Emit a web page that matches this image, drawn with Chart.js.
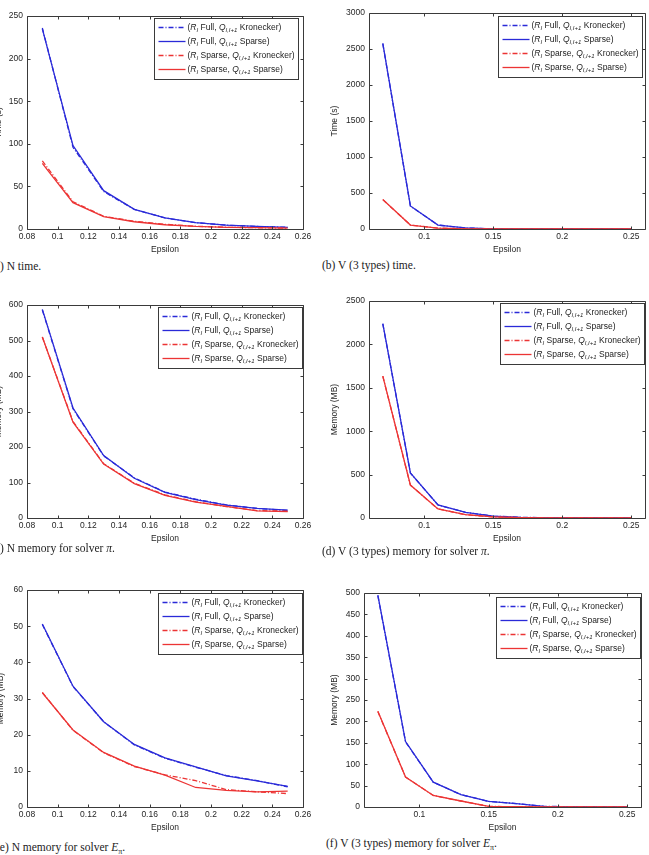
<!DOCTYPE html>
<html>
<head>
<meta charset="utf-8">
<script src="https://cdn.jsdelivr.net/npm/chart.js@4.4.0/dist/chart.umd.min.js"></script>
<style>
  html, body { margin: 0; padding: 0; background: #fff; }
  body { width: 649px; height: 855px; position: relative; overflow: hidden; }
  canvas { position: absolute; }
  .cap { position: absolute; font-family: "Liberation Serif", "DejaVu Serif", serif; font-size: 11.5px; color: #222; white-space: nowrap; line-height: 12px; }
</style>
</head>
<body>
<canvas id="pa"></canvas>
<canvas id="pb"></canvas>
<canvas id="pc"></canvas>
<canvas id="pd"></canvas>
<canvas id="pe"></canvas>
<canvas id="pf"></canvas>
<div class="cap" style="left:-9px;top:260px">(a) N time.</div>
<div class="cap" style="left:322px;top:259px">(b) V (3 types) time.</div>
<div class="cap" style="left:-9px;top:542px">(c) N memory for solver <i>π</i>.</div>
<div class="cap" style="left:322px;top:545px">(d) V (3 types) memory for solver <i>π</i>.</div>
<div class="cap" style="left:-4px;top:841px">(e) N memory for solver <i>E</i><sub style="font-size:8px">π</sub>.</div>
<div class="cap" style="left:326px;top:837px">(f) V (3 types) memory for solver <i>E</i><sub style="font-size:8px">π</sub>.</div>
<script>
// epsilon values where the runs were made
const epsN = [0.09, 0.11, 0.13, 0.15, 0.17, 0.19, 0.21, 0.23, 0.25];
const epsV = [0.07, 0.09, 0.11, 0.13, 0.15, 0.17, 0.19, 0.21, 0.23, 0.25];

// (a) N time
const nTimeFullKron     = [236, 96, 44, 23, 13, 7.5, 4.5, 3, 2];
const nTimeFullSparse   = [235, 98, 45, 23, 13, 7.5, 4.5, 3, 2];
const nTimeSparseKron   = [80, 32, 15, 9, 5.5, 3.2, 2, 1.5, 1];
const nTimeSparseSparse = [77, 31, 14.5, 8.5, 5, 3, 2, 1.5, 1];

// (b) V time
const vTimeFullKron     = [2575, 318, 55, 14, 3, 1, 0.5, 0.3, 0.2, 0.1];
const vTimeFullSparse   = [2580, 320, 55, 15, 3, 1, 0.5, 0.3, 0.2, 0.1];
const vTimeSparseKron   = [408, 55, 12, 3, 1, 0.5, 0.3, 0.2, 0.1, 0.1];
const vTimeSparseSparse = [410, 55, 12, 3, 1, 0.5, 0.3, 0.2, 0.1, 0.1];

// (c) N memory, solver pi
const nMemPiFullKron     = [586, 308, 175, 113, 73, 53, 37, 27, 21];
const nMemPiFullSparse   = [588, 310, 176, 112, 72, 52, 36, 27, 22];
const nMemPiSparseKron   = [510, 272, 153, 98, 65, 46, 32, 21, 19];
const nMemPiSparseSparse = [510, 270, 152, 97, 64, 45, 33, 20, 18];

// (d) V memory, solver pi
const vMemPiFullKron     = [2238, 518, 150, 65, 22, 8, 3, 1, 0.5, 0.3];
const vMemPiFullSparse   = [2240, 520, 150, 65, 22, 8, 3, 1, 0.5, 0.3];
const vMemPiSparseKron   = [1635, 378, 104, 38, 12, 4, 1.5, 0.5, 0.3, 0.2];
const vMemPiSparseSparse = [1635, 380, 105, 38, 12, 4, 1.5, 0.5, 0.3, 0.2];

// (e) N memory, solver E_pi
const nMemEFullKron     = [50.5, 33.3, 23.6, 17.2, 13.5, 11.0, 8.7, 7.3, 5.6];
const nMemEFullSparse   = [50.6, 33.4, 23.6, 17.3, 13.6, 11.1, 8.6, 7.2, 5.7];
const nMemESparseKron   = [31.7, 21.2, 15.0, 11.2, 8.9, 7.3, 4.8, 4.2, 3.7];
const nMemESparseSparse = [31.6, 21.3, 15.1, 11.3, 8.8, 5.4, 4.6, 4.2, 4.4];

// (f) V memory, solver E_pi
const vMemEFullKron     = [494, 152, 58, 29, 13, 8, 1.5, 0.8, 0.5, 0.3];
const vMemEFullSparse   = [495, 153, 58, 29, 13, 8, 1.5, 0.8, 0.5, 0.3];
const vMemESparseKron   = [223, 70, 27, 14, 1.5, 0.6, 0.4, 0.3, 0.2, 0.2];
const vMemESparseSparse = [224, 70, 27, 14, 1.5, 0.6, 0.4, 0.3, 0.2, 0.2];

// tick labels
const xTicksN = [0.08, 0.1, 0.12, 0.14, 0.16, 0.18, 0.2, 0.22, 0.24, 0.26];
const xTicksV = [0.1, 0.15, 0.2, 0.25];
const yTicksA = [0, 50, 100, 150, 200, 250];
const yTicksB = [0, 500, 1000, 1500, 2000, 2500, 3000];
const yTicksC = [0, 100, 200, 300, 400, 500, 600];
const yTicksD = [0, 500, 1000, 1500, 2000, 2500];
const yTicksE = [0, 10, 20, 30, 40, 50, 60];
const yTicksF = [0, 50, 100, 150, 200, 250, 300, 350, 400, 450, 500];

// legend: (R_I <rMode>, Q_{I,I+1} <qMode>)
const rModes = ['Full', 'Full', 'Sparse', 'Sparse'];
const qModes = ['Kronecker', 'Sparse', 'Kronecker', 'Sparse'];

const BLUE = '#2a2ad8';
const RED = '#ec3434';
const seriesColors = [BLUE, BLUE, RED, RED];
const DASHDOT = [5, 2, 1, 2];
const seriesDash = [DASHDOT, [], DASHDOT, []];
const SANS = '"Liberation Sans", Arial, sans-serif';

// MATLAB-ish box with inward ticks on all four sides
const matlabBox = {
  id: 'matlabBox',
  afterDatasetsDraw(chart) {
    const {ctx, chartArea: a, scales: {x, y}} = chart;
    const l = Math.round(a.left) + 0.5, r = Math.round(a.right) + 0.5;
    const t = Math.round(a.top) + 0.5, b = Math.round(a.bottom) + 0.5;
    ctx.save();
    ctx.strokeStyle = '#3a3a3a';
    ctx.lineWidth = 1;
    ctx.beginPath();
    ctx.rect(l, t, r - l, b - t);
    x.ticks.forEach(tk => {
      const px = Math.round(x.getPixelForValue(tk.value)) + 0.5;
      ctx.moveTo(px, b); ctx.lineTo(px, b - 3);
      ctx.moveTo(px, t); ctx.lineTo(px, t + 3);
    });
    y.ticks.forEach(tk => {
      const py = Math.round(y.getPixelForValue(tk.value)) + 0.5;
      ctx.moveTo(l, py); ctx.lineTo(l + 3, py);
      ctx.moveTo(r, py); ctx.lineTo(r - 3, py);
    });
    ctx.stroke();
    ctx.restore();
  }
};

function drawRich(ctx, parts, x, y) {
  parts.forEach(([txt, st]) => {
    let dy = 0;
    if (st === 'i') ctx.font = 'italic 8.5px ' + SANS;
    else if (st === 'sub') { ctx.font = 'italic 6px ' + SANS; dy = 2.5; }
    else ctx.font = '8.5px ' + SANS;
    ctx.fillText(txt, x, y + dy);
    x += ctx.measureText(txt).width;
  });
  return x;
}

function legendParts(i) {
  return [['('], ['R', 'i'], ['I', 'sub'], [' ' + rModes[i] + ', '], ['Q', 'i'], ['I,I+1', 'sub'], [' ' + qModes[i] + ')']];
}

const matlabLegend = {
  id: 'matlabLegend',
  afterDraw(chart, args, opts) {
    const {ctx, chartArea: a} = chart;
    ctx.save();
    ctx.textBaseline = 'middle';
    let tw = 0;
    for (let i = 0; i < 4; i++) {
      const w = drawRich({fillText() {}, measureText: t => ctx.measureText(t), set font(f) { ctx.font = f; }}, legendParts(i), 0, 0);
      tw = Math.max(tw, w);
    }
    const w = Math.round(33 + tw + 4), h = 61;
    const bx = Math.round(a.right - opts.insetR - w) + 0.5, by = Math.round(a.top + opts.insetT) + 0.5;
    ctx.fillStyle = '#fff';
    ctx.fillRect(bx, by, w, h);
    ctx.strokeStyle = '#3a3a3a';
    ctx.lineWidth = 1;
    ctx.strokeRect(bx, by, w, h);
    chart.data.datasets.forEach((ds, i) => {
      const ry = by + 9 + i * 14;
      ctx.strokeStyle = ds.borderColor;
      ctx.lineWidth = 1.3;
      ctx.setLineDash(ds.borderDash);
      ctx.beginPath();
      ctx.moveTo(bx + 4, ry); ctx.lineTo(bx + 31, ry);
      ctx.stroke();
      ctx.setLineDash([]);
      ctx.fillStyle = '#222';
      drawRich(ctx, legendParts(i), bx + 33, ry);
    });
    ctx.restore();
  }
};

function fmt(v) { return String(parseFloat(Number(v).toFixed(2))); }

const panels = [
  { id: 'pa', x: epsN, series: [nTimeFullKron, nTimeFullSparse, nTimeSparseKron, nTimeSparseSparse],
    xMin: 0.08, xMax: 0.26, xTicks: xTicksN, yTicks: yTicksA, yTitle: 'Time (s)',
    plot: [27, 15, 303, 229], yW: 33, leg: {insetR: 5, insetT: 2} },
  { id: 'pb', x: epsV, series: [vTimeFullKron, vTimeFullSparse, vTimeSparseKron, vTimeSparseSparse],
    xMin: 0.06, xMax: 0.26, xTicks: xTicksV, yTicks: yTicksB, yTitle: 'Time (s)',
    plot: [369, 12, 645, 229], yW: 39, leg: {insetR: 3, insetT: 3} },
  { id: 'pc', x: epsN, series: [nMemPiFullKron, nMemPiFullSparse, nMemPiSparseKron, nMemPiSparseSparse],
    xMin: 0.08, xMax: 0.26, xTicks: xTicksN, yTicks: yTicksC, yTitle: 'Memory (MB)',
    plot: [27, 304, 303, 518], yW: 33, leg: {insetR: 1, insetT: 2} },
  { id: 'pd', x: epsV, series: [vMemPiFullKron, vMemPiFullSparse, vMemPiSparseKron, vMemPiSparseSparse],
    xMin: 0.06, xMax: 0.26, xTicks: xTicksV, yTicks: yTicksD, yTitle: 'Memory (MB)',
    plot: [369, 300, 645, 518], yW: 39, leg: {insetR: 1, insetT: 2} },
  { id: 'pe', x: epsN, series: [nMemEFullKron, nMemEFullSparse, nMemESparseKron, nMemESparseSparse],
    xMin: 0.08, xMax: 0.26, xTicks: xTicksN, yTicks: yTicksE, yTitle: 'Memory (MB)',
    plot: [27, 589, 303, 807], yW: 31, leg: {insetR: 1, insetT: 3} },
  { id: 'pf', x: epsV, series: [vMemEFullKron, vMemEFullSparse, vMemESparseKron, vMemESparseSparse],
    xMin: 0.06, xMax: 0.26, xTicks: xTicksV, yTicks: yTicksF, yTitle: 'Memory (MB)',
    plot: [364, 592, 641, 807], yW: 34, leg: {insetR: 1, insetT: 4} }
];

function makeChart(p) {
  const [L, T, R, B] = p.plot;
  const padT = 8, padR = 12, xH = 26;
  const W = (R - L) + p.yW + padR, H = (B - T) + padT + xH;
  const cv = document.getElementById(p.id);
  cv.width = W; cv.height = H;
  cv.style.left = (L - p.yW) + 'px';
  cv.style.top = (T - padT) + 'px';
  cv.style.width = W + 'px';
  cv.style.height = H + 'px';

  new Chart(cv, {
    type: 'line',
    data: {
      datasets: p.series.map((d, i) => ({
        label: '(R' + rModes[i] + ', Q ' + qModes[i] + ')',
        data: p.x.map((xv, j) => ({x: xv, y: d[j]})),
        borderColor: seriesColors[i],
        borderDash: seriesDash[i],
        borderWidth: 1.3,
        pointRadius: 0,
        tension: 0,
        fill: false,
        order: 3 - i
      }))
    },
    options: {
      responsive: false,
      animation: false,
      devicePixelRatio: 1,
      layout: {padding: {top: padT, right: padR, left: 0, bottom: 0}},
      plugins: {
        legend: {display: false},
        tooltip: {enabled: false},
        matlabLegend: p.leg
      },
      scales: {
        x: {
          type: 'linear', min: p.xMin, max: p.xMax,
          grid: {display: false, drawTicks: false},
          border: {display: false},
          afterBuildTicks: s => { s.ticks = p.xTicks.map(v => ({value: v})); },
          afterFit: s => { s.height = xH; },
          ticks: {padding: 3, maxRotation: 0, autoSkip: false, color: '#262626',
                  font: {family: SANS, size: 8.5}, callback: v => fmt(v)},
          title: {display: true, text: 'Epsilon', padding: 0, color: '#262626',
                  font: {family: SANS, size: 8.5}}
        },
        y: {
          type: 'linear', min: p.yTicks[0], max: p.yTicks[p.yTicks.length - 1],
          grid: {display: false, drawTicks: false},
          border: {display: false},
          afterBuildTicks: s => { s.ticks = p.yTicks.map(v => ({value: v})); },
          afterFit: s => { s.width = p.yW; },
          ticks: {padding: 4, autoSkip: false, color: '#262626',
                  font: {family: SANS, size: 8.5}, callback: v => String(v)},
          title: {display: true, text: p.yTitle, padding: 0, color: '#262626',
                  font: {family: SANS, size: 8.5}}
        }
      }
    },
    plugins: [matlabBox, matlabLegend]
  });
}

panels.forEach(makeChart);
</script>
</body>
</html>
